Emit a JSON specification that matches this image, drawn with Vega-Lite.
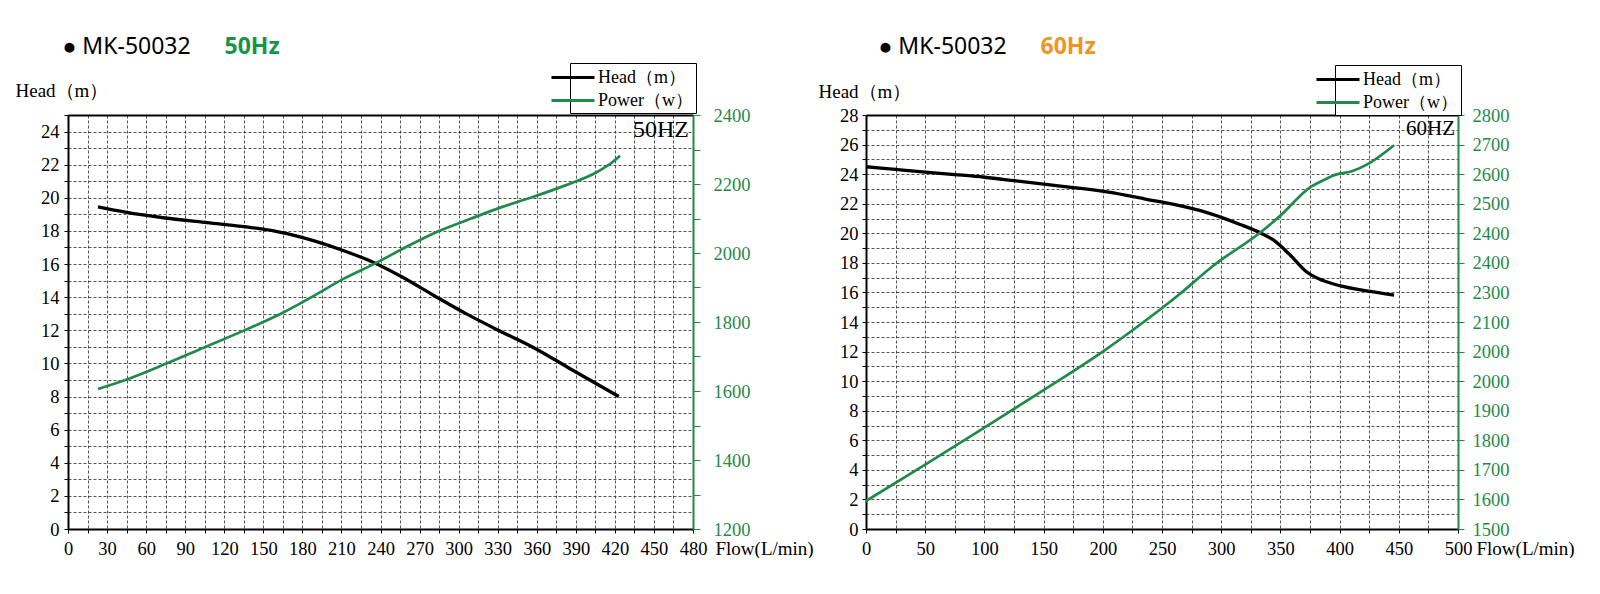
{
  "$schema": "https://vega.github.io/schema/vega-lite/v6.json",
  "background": "white",
  "padding": {"left": 15, "top": 35, "right": 0, "bottom": 0},
  "bounds": "flush",
  "spacing": 173,
  "config": {
    "view": {"stroke": null},
    "axis": {
      "labelFont": "Liberation Serif",
      "labelFontSize": 18.5,
      "labelColor": "#000000",
      "labelFlush": false,
      "labelOverlap": false,
      "labelPadding": 4,
      "titleFont": "Liberation Serif",
      "titleFontSize": 19,
      "titleFontWeight": "normal",
      "titleColor": "#000000",
      "titleAngle": 0,
      "titleAlign": "left",
      "titleBaseline": "alphabetic",
      "gridDash": [3, 2],
      "gridColor": "#2a2a2a",
      "gridWidth": 0.8,
      "gridOpacity": 1,
      "domainColor": "#000000",
      "domainWidth": 2,
      "tickColor": "#000000",
      "tickSize": 4
    },
    "legend": {
      "orient": "none",
      "direction": "vertical",
      "symbolType": "M-3.3,0H1",
      "symbolSize": 400,
      "symbolStrokeWidth": 3,
      "labelFont": "Liberation Serif",
      "labelFontSize": 18,
      "labelColor": "#000000",
      "strokeColor": "#000000",
      "fillColor": "white",
      "padding": 3,
      "rowPadding": 2,
      "labelOffset": 2
    }
  },
  "datasets": {
    "hz50": [
      {"series": "Head（m）", "flow": 23, "value": 19.45},
      {"series": "Head（m）", "flow": 44, "value": 19.13},
      {"series": "Head（m）", "flow": 74.5, "value": 18.78},
      {"series": "Head（m）", "flow": 105, "value": 18.52},
      {"series": "Head（m）", "flow": 135, "value": 18.26},
      {"series": "Head（m）", "flow": 157, "value": 18.02},
      {"series": "Head（m）", "flow": 181, "value": 17.58},
      {"series": "Head（m）", "flow": 208, "value": 16.91},
      {"series": "Head（m）", "flow": 236, "value": 16.05},
      {"series": "Head（m）", "flow": 257, "value": 15.2},
      {"series": "Head（m）", "flow": 281, "value": 14.1},
      {"series": "Head（m）", "flow": 306, "value": 12.99},
      {"series": "Head（m）", "flow": 330, "value": 12.02},
      {"series": "Head（m）", "flow": 357, "value": 10.98},
      {"series": "Head（m）", "flow": 388, "value": 9.57},
      {"series": "Head（m）", "flow": 423, "value": 8.0},
      {"series": "Power（w）", "flow": 23, "value": 1606},
      {"series": "Power（w）", "flow": 44, "value": 1632},
      {"series": "Power（w）", "flow": 74.5, "value": 1678},
      {"series": "Power（w）", "flow": 105, "value": 1727},
      {"series": "Power（w）", "flow": 135, "value": 1775},
      {"series": "Power（w）", "flow": 163, "value": 1823},
      {"series": "Power（w）", "flow": 187, "value": 1872},
      {"series": "Power（w）", "flow": 211.5, "value": 1925},
      {"series": "Power（w）", "flow": 236, "value": 1970},
      {"series": "Power（w）", "flow": 260, "value": 2018},
      {"series": "Power（w）", "flow": 284.5, "value": 2063},
      {"series": "Power（w）", "flow": 309, "value": 2099},
      {"series": "Power（w）", "flow": 333, "value": 2133},
      {"series": "Power（w）", "flow": 357.5, "value": 2163},
      {"series": "Power（w）", "flow": 382, "value": 2196},
      {"series": "Power（w）", "flow": 406, "value": 2234},
      {"series": "Power（w）", "flow": 418, "value": 2263},
      {"series": "Power（w）", "flow": 424, "value": 2282}
    ],
    "hz60": [
      {"series": "Head（m）", "flow": 0, "value": 24.5},
      {"series": "Head（m）", "flow": 25, "value": 24.32},
      {"series": "Head（m）", "flow": 50, "value": 24.14},
      {"series": "Head（m）", "flow": 75, "value": 23.97},
      {"series": "Head（m）", "flow": 100, "value": 23.79},
      {"series": "Head（m）", "flow": 125, "value": 23.56},
      {"series": "Head（m）", "flow": 150, "value": 23.32},
      {"series": "Head（m）", "flow": 175, "value": 23.09},
      {"series": "Head（m）", "flow": 205, "value": 22.78},
      {"series": "Head（m）", "flow": 237, "value": 22.3},
      {"series": "Head（m）", "flow": 260, "value": 21.95},
      {"series": "Head（m）", "flow": 288, "value": 21.4},
      {"series": "Head（m）", "flow": 316, "value": 20.6},
      {"series": "Head（m）", "flow": 333, "value": 20.03},
      {"series": "Head（m）", "flow": 344, "value": 19.55},
      {"series": "Head（m）", "flow": 358, "value": 18.55},
      {"series": "Head（m）", "flow": 372, "value": 17.4},
      {"series": "Head（m）", "flow": 386, "value": 16.8},
      {"series": "Head（m）", "flow": 400, "value": 16.46},
      {"series": "Head（m）", "flow": 423, "value": 16.1},
      {"series": "Head（m）", "flow": 446, "value": 15.82},
      {"series": "Power（w）", "flow": 0, "value": 1588},
      {"series": "Power（w）", "flow": 50, "value": 1702},
      {"series": "Power（w）", "flow": 100, "value": 1818},
      {"series": "Power（w）", "flow": 150, "value": 1936},
      {"series": "Power（w）", "flow": 200, "value": 2057},
      {"series": "Power（w）", "flow": 237, "value": 2157},
      {"series": "Power（w）", "flow": 265, "value": 2238},
      {"series": "Power（w）", "flow": 293, "value": 2326},
      {"series": "Power（w）", "flow": 333, "value": 2431},
      {"series": "Power（w）", "flow": 350, "value": 2484},
      {"series": "Power（w）", "flow": 375, "value": 2573},
      {"series": "Power（w）", "flow": 389, "value": 2600},
      {"series": "Power（w）", "flow": 396, "value": 2612},
      {"series": "Power（w）", "flow": 411, "value": 2624},
      {"series": "Power（w）", "flow": 423, "value": 2644},
      {"series": "Power（w）", "flow": 446, "value": 2705}
    ]
  },
  "hconcat": [
    {
      "width": 625,
      "height": 414,
      "data": {"name": "hz50"},
      "layer": [
        {
          "transform": [{"filter": "datum.series == 'Head（m）'"}],
          "mark": {"type": "line", "interpolate": "monotone", "strokeWidth": 3.3},
          "encoding": {
            "x": {
              "field": "flow",
              "type": "quantitative",
              "scale": {"domain": [0, 480], "nice": false},
              "axis": {
                "orient": "bottom",
                "values": [0, 15, 30, 45, 60, 75, 90, 105, 120, 135, 150, 165, 180, 195, 210, 225, 240, 255, 270, 285, 300, 315, 330, 345, 360, 375, 390, 405, 420, 435, 450, 465, 480],
                "labelExpr": "datum.value % 30 == 0 ? datum.value : ''",
                "labelPadding": 6,
                "title": "Flow(L/min)",
                "titleX": 647,
                "titleY": 25
              }
            },
            "y": {
              "field": "value",
              "type": "quantitative",
              "scale": {"domain": [0, 25], "nice": false},
              "axis": {
                "orient": "left",
                "values": [0, 1, 2, 3, 4, 5, 6, 7, 8, 9, 10, 11, 12, 13, 14, 15, 16, 17, 18, 19, 20, 21, 22, 23, 24, 25],
                "labelExpr": "datum.value % 2 == 0 ? datum.value : ''",
                "labelPadding": 5,
                "title": "Head（m）",
                "titleX": -53,
                "titleY": -19
              }
            },
            "color": {
              "field": "series",
              "type": "nominal",
              "scale": {"domain": ["Head（m）", "Power（w）"], "range": ["#000000", "#1f8a4a"]},
              "legend": {"title": null, "legendX": 502, "legendY": -52}
            }
          }
        },
        {
          "transform": [{"filter": "datum.series == 'Power（w）'"}],
          "mark": {"type": "line", "interpolate": "monotone", "strokeWidth": 2.7},
          "encoding": {
            "x": {
              "field": "flow",
              "type": "quantitative",
              "scale": {"domain": [0, 480], "nice": false},
              "axis": {
                "orient": "top",
                "grid": false,
                "ticks": false,
                "labels": false,
                "title": "● MK-50032",
                "titleFont": "Noto Sans",
                "titleFontSize": 23,
                "titleX": -6,
                "titleY": -62
              }
            },
            "y": {
              "field": "value",
              "type": "quantitative",
              "scale": {"domain": [1200, 2400], "nice": false},
              "axis": {
                "orient": "right",
                "grid": false,
                "values": [1200, 1300, 1400, 1500, 1600, 1700, 1800, 1900, 2000, 2100, 2200, 2300, 2400],
                "labelExpr": "datum.value % 200 == 0 ? format(datum.value, 'd') : ''",
                "labelColor": "#1f8a4a",
                "labelPadding": 13,
                "tickColor": "#1f8a4a",
                "tickSize": 7,
                "domainColor": "#1f8a4a",
                "title": "50Hz",
                "titleFont": "Noto Sans",
                "titleFontSize": 23,
                "titleFontWeight": "bold",
                "titleColor": "#17944a",
                "titleX": -469,
                "titleY": -62
              }
            },
            "color": {"field": "series", "type": "nominal"}
          }
        },
        {
          "data": {"values": [{"note": "50HZ"}]},
          "mark": {"type": "text", "align": "right", "baseline": "top", "font": "Liberation Serif", "fontSize": 24, "dx": -4, "dy": 3, "color": "#000000"},
          "encoding": {
            "x": {"datum": 480, "type": "quantitative", "scale": {"domain": [0, 480], "nice": false}, "axis": null},
            "y": {"datum": 25, "type": "quantitative", "scale": {"domain": [0, 25], "nice": false}, "axis": null},
            "text": {"field": "note"}
          }
        }
      ],
      "resolve": {"scale": {"y": "independent"}, "axis": {"x": "independent"}}
    },
    {
      "width": 592,
      "height": 414,
      "data": {"name": "hz60"},
      "layer": [
        {
          "transform": [{"filter": "datum.series == 'Head（m）'"}],
          "mark": {"type": "line", "interpolate": "monotone", "strokeWidth": 3.3},
          "encoding": {
            "x": {
              "field": "flow",
              "type": "quantitative",
              "scale": {"domain": [0, 500], "nice": false},
              "axis": {
                "orient": "bottom",
                "values": [0, 25, 50, 75, 100, 125, 150, 175, 200, 225, 250, 275, 300, 325, 350, 375, 400, 425, 450, 475, 500],
                "labelExpr": "datum.value % 50 == 0 ? datum.value : ''",
                "labelPadding": 6,
                "title": "Flow(L/min)",
                "titleX": 610,
                "titleY": 25
              }
            },
            "y": {
              "field": "value",
              "type": "quantitative",
              "scale": {"domain": [0, 28], "nice": false},
              "axis": {
                "orient": "left",
                "values": [0, 1, 2, 3, 4, 5, 6, 7, 8, 9, 10, 11, 12, 13, 14, 15, 16, 17, 18, 19, 20, 21, 22, 23, 24, 25, 26, 27, 28],
                "labelExpr": "datum.value % 2 == 0 ? datum.value : ''",
                "title": "Head（m）",
                "titleX": -48,
                "titleY": -18
              }
            },
            "color": {
              "field": "series",
              "type": "nominal",
              "scale": {"domain": ["Head（m）", "Power（w）"], "range": ["#000000", "#1f8a4a"]},
              "legend": {"title": null, "legendX": 469, "legendY": -50}
            }
          }
        },
        {
          "transform": [{"filter": "datum.series == 'Power（w）'"}],
          "mark": {"type": "line", "interpolate": "monotone", "strokeWidth": 2.7},
          "encoding": {
            "x": {
              "field": "flow",
              "type": "quantitative",
              "scale": {"domain": [0, 500], "nice": false},
              "axis": {
                "orient": "top",
                "grid": false,
                "ticks": false,
                "labels": false,
                "title": "● MK-50032",
                "titleFont": "Noto Sans",
                "titleFontSize": 23,
                "titleX": 12,
                "titleY": -62
              }
            },
            "y": {
              "field": "value",
              "type": "quantitative",
              "scale": {"domain": [1500, 2800], "nice": false},
              "axis": {
                "orient": "right",
                "grid": false,
                "values": [1500, 1592.857, 1685.714, 1778.571, 1871.429, 1964.286, 2057.143, 2150, 2242.857, 2335.714, 2428.571, 2521.429, 2614.286, 2707.143, 2800],
                "labelExpr": "['1500','1600','1700','1800','1900','2000','2000','2100','2300','2400','2400','2500','2600','2700','2800'][round((datum.value - 1500) / 92.857)]",
                "labelColor": "#1f8a4a",
                "labelPadding": 8,
                "tickColor": "#1f8a4a",
                "tickSize": 6,
                "domainColor": "#1f8a4a",
                "title": "60Hz",
                "titleFont": "Noto Sans",
                "titleFontSize": 23,
                "titleFontWeight": "bold",
                "titleColor": "#f29422",
                "titleX": -418,
                "titleY": -62
              }
            },
            "color": {"field": "series", "type": "nominal"}
          }
        },
        {
          "data": {"values": [{"note": "60HZ"}]},
          "mark": {"type": "text", "align": "right", "baseline": "top", "font": "Liberation Serif", "fontSize": 21, "dx": -3, "dy": 3, "color": "#000000"},
          "encoding": {
            "x": {"datum": 500, "type": "quantitative", "scale": {"domain": [0, 500], "nice": false}, "axis": null},
            "y": {"datum": 28, "type": "quantitative", "scale": {"domain": [0, 28], "nice": false}, "axis": null},
            "text": {"field": "note"}
          }
        }
      ],
      "resolve": {"scale": {"y": "independent"}, "axis": {"x": "independent"}}
    }
  ],
  "resolve": {"scale": {"color": "independent"}}
}
